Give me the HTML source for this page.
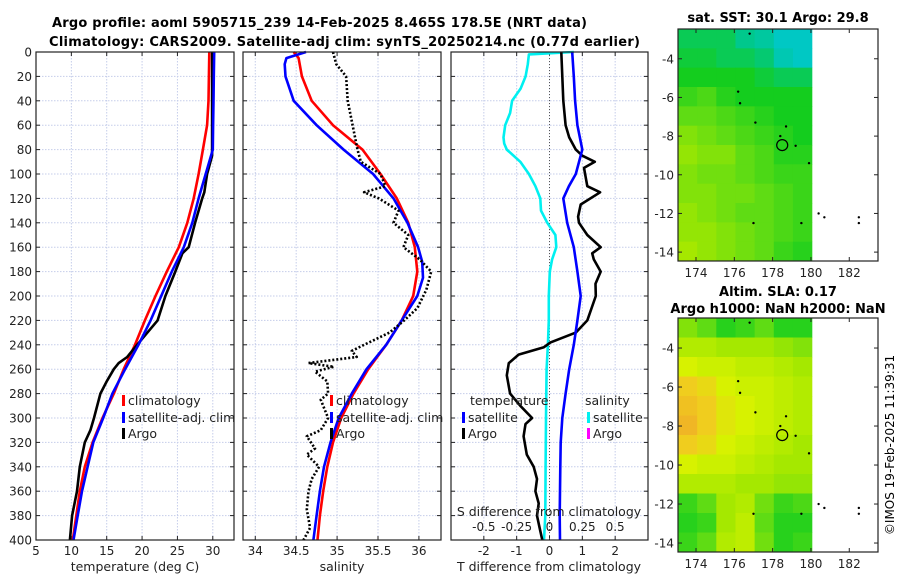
<!DOCTYPE html>
<html><head><meta charset="utf-8"><style>
html,body{margin:0;padding:0;background:#fff;}
svg{display:block;font-family:"DejaVu Sans","Liberation Sans",sans-serif;}
</style></head><body>
<svg id="fig" width="900" height="580" viewBox="0 0 900 580" xmlns="http://www.w3.org/2000/svg">
<text x="52" y="27" font-size="13" font-weight="bold" textLength="535">Argo profile: aoml 5905715_239 14-Feb-2025 8.465S 178.5E (NRT data)</text>
<text x="49" y="46" font-size="13" font-weight="bold" textLength="591">Climatology: CARS2009. Satellite-adj clim: synTS_20250214.nc (0.77d earlier)</text>
<text x="778" y="22" font-size="13" font-weight="bold" text-anchor="middle">sat. SST: 30.1 Argo: 29.8</text>
<text x="778" y="296" font-size="13" font-weight="bold" text-anchor="middle">Altim. SLA: 0.17</text>
<text x="778" y="313" font-size="13" font-weight="bold" text-anchor="middle">Argo h1000: NaN h2000: NaN</text>
<text transform="translate(894,445) rotate(-90)" font-size="12" text-anchor="middle">©IMOS 19-Feb-2025 11:39:31</text>
<g id="root"></g>
</svg>
<script>
// ---------- data ----------
const depthTicks=[0,20,40,60,80,100,120,140,160,180,200,220,240,260,280,300,320,340,360,380,400];
const tempTicks=[5,10,15,20,25,30];
const salTicks=[34,34.5,35,35.5,36];
const tdiffTicks=[-2,-1,0,1,2];
const sdiffTicks=[-0.5,-0.25,0,0.25,0.5];
const sdiffLabels=["-0.5","-0.25","0","0.25","0.5"];
const lonTicks=[174,176,178,180,182];
const latTicks=[-4,-6,-8,-10,-12,-14];

const tClimDepth=[0,20,40,60,80,100,120,140,160,180,200,220,240,260,280,300,320,340,360,380,400];
const tClimVal=[29.5,29.45,29.4,29.2,28.6,28.0,27.3,26.4,25.2,23.5,21.9,20.4,19.0,17.4,16.0,14.4,13.0,11.9,11.2,10.7,10.2];
const tSatDepth=[0,20,40,60,80,100,120,140,160,180,200,220,240,260,280,300,320,340,360,380,400];
const tSatVal=[30.2,30.15,30.1,30.05,30.0,29.0,28.0,27.1,25.9,24.2,22.7,21.2,19.5,17.6,15.8,14.5,13.1,12.3,11.5,10.9,10.3];
const tArgoDepth=[0,40,85,100,115,120,140,160,165,180,200,220,240,250,255,260,270,280,300,310,320,340,360,380,400];
const tArgoVal=[29.9,29.9,29.9,29.2,28.8,28.5,27.5,26.6,25.7,24.7,23.3,22.2,19.3,17.9,16.7,16.0,15.0,14.1,13.2,12.7,11.9,11.2,10.8,10.1,9.8];

const sClimDepth=[0,5,20,40,60,80,100,120,140,160,180,200,220,240,260,280,300,320,340,360,380,400];
const sClimVal=[34.47,34.53,34.57,34.69,34.95,35.31,35.53,35.73,35.87,35.95,35.98,35.93,35.79,35.6,35.38,35.2,35.05,34.95,34.88,34.83,34.79,34.76];
const sSatDepth=[0,5,10,20,40,60,80,100,120,140,160,172,185,200,220,240,260,280,300,320,340,360,380,400];
const sSatVal=[34.62,34.38,34.36,34.37,34.47,34.75,35.08,35.44,35.69,35.86,35.99,36.04,36.05,35.98,35.79,35.6,35.36,35.18,35.02,34.92,34.84,34.79,34.75,34.71];
const sArgoDepth=[0,10,20,40,60,80,90,100,110,115,120,130,140,150,160,170,180,195,210,220,230,240,245,250,255,258,262,270,280,285,300,310,315,325,330,340,350,360,375,390,400];
const sArgoVal=[34.95,34.99,35.11,35.13,35.19,35.25,35.29,35.53,35.59,35.33,35.51,35.75,35.69,35.87,35.81,36.01,36.15,36.09,35.98,35.82,35.64,35.33,35.18,35.24,34.65,34.96,34.73,34.88,34.89,34.8,34.89,34.8,34.63,34.73,34.63,34.78,34.69,34.65,34.63,34.67,34.59];

const dTSatDepth=[0,20,40,60,80,100,110,120,140,160,180,200,220,240,260,280,300,320,340,360,380,400];
const dTSatVal=[0.69,0.74,0.78,0.85,1.0,0.8,0.59,0.42,0.54,0.74,0.85,0.95,0.85,0.74,0.6,0.49,0.39,0.34,0.33,0.32,0.31,0.32];
const dTArgoDepth=[0,20,40,60,70,80,85,90,95,110,115,125,135,140,150,160,165,170,180,190,200,220,230,238,242,248,255,265,280,290,300,305,315,330,340,350,360,370,380,390,400];
const dTArgoVal=[0.36,0.39,0.42,0.49,0.6,0.8,1.0,1.38,1.05,1.15,1.54,0.95,0.87,0.9,1.15,1.56,1.3,1.35,1.56,1.4,1.41,1.15,0.8,0.03,-0.17,-0.94,-1.24,-1.3,-1.2,-0.89,-0.53,-0.73,-0.79,-0.69,-0.48,-0.38,-0.43,-0.33,-0.38,-0.3,-0.22];
const dSSatDepth=[0,2,10,20,30,40,50,60,70,75,80,90,100,110,120,130,140,150,160,170,180,200,220,240,260,300,340,380,400];
const dSSatVal=[0.185,-0.157,-0.165,-0.182,-0.22,-0.285,-0.3,-0.337,-0.35,-0.345,-0.325,-0.222,-0.157,-0.107,-0.07,-0.065,-0.017,0.045,0.052,0.02,0.002,-0.005,-0.005,-0.012,-0.022,-0.027,-0.03,-0.032,-0.042];

// map grids: rows from lat -2.5 downward (1 deg each), cols from lon 173.06 eastward
const sstGrid=[
[.3,.3,.3,.2,.15,.05,.05],
[.35,.35,.3,.3,.25,.1,.05],
[.4,.4,.4,.4,.35,.3,.3],
[.5,.55,.45,.4,.4,.4,.4],
[.6,.6,.55,.5,.45,.4,.4],
[.7,.65,.6,.55,.5,.45,.4],
[.75,.7,.7,.6,.55,.45,.45],
[.7,.65,.65,.6,.55,.5,.5],
[.7,.7,.65,.65,.6,.55,.5],
[.75,.7,.65,.6,.6,.55,.5],
[.75,.75,.7,.65,.6,.55,.5],
[.8,.75,.7,.65,.6,.5,.45]];
const slaGrid=[
[.7,.6,.45,.5,.6,.45,.45],
[.85,.85,.8,.8,.8,.75,.7],
[1.0,.95,.95,.9,.9,.85,.8],
[1.15,1.1,1.0,.95,.95,.9,.85],
[1.2,1.15,1.05,1.0,.95,.9,.85],
[1.25,1.15,1.05,1.0,.95,.9,.85],
[1.15,1.1,1.0,.95,.9,.85,.8],
[1.0,.95,.95,.9,.85,.8,.8],
[.85,.85,.85,.8,.8,.75,.75],
[.5,.6,.8,.85,.65,.5,.55],
[.45,.5,.8,.9,.6,.45,.45],
[.5,.6,.85,.9,.65,.45,.5]];
const islandLon=[176.8,176.2,176.3,177.1,178.7,178.4,179.2,179.9,180.4,180.7,182.5,182.5,177.0,179.5];
const islandLat=[-2.7,-5.7,-6.3,-7.3,-7.5,-8.0,-8.5,-9.4,-12.0,-12.2,-12.2,-12.5,-12.5,-12.5];
const argoLon=178.5, argoLat=-8.465;

// ---------- drawing ----------
const NS="http://www.w3.org/2000/svg";
const root=document.getElementById('root');
function el(tag,attrs,parent){const e=document.createElementNS(NS,tag);for(const k in attrs)e.setAttribute(k,attrs[k]);(parent||root).appendChild(e);return e;}
const TOP=52,BOT=540;
const yD=d=>TOP+(d/400)*(BOT-TOP);
function lin(d0,d1,r0,r1){return v=>r0+(v-d0)/(d1-d0)*(r1-r0);}

const panels=[
 {x0:36,x1:234,sx:lin(5,33,36,234),ticks:tempTicks,name:'temperature-panel',label:'temperature (deg C)',lx:135},
 {x0:243,x1:441,sx:lin(33.85,36.27,243,441),ticks:salTicks,name:'salinity-panel',label:'salinity',lx:342},
 {x0:451,x1:648,sx:lin(-3,3,451,648),ticks:tdiffTicks,name:'difference-panel',label:'T difference from climatology',lx:549}
];
panels.forEach((p,pi)=>{
  const g=el('g',{});
  
  
  depthTicks.forEach(d=>{
    const l=el('line',{x1:p.x0,x2:p.x1,y1:yD(d),y2:yD(d),stroke:'#c5cdea','stroke-width':1,'stroke-dasharray':'1.5,1.5'},g);
    
    el('line',{x1:p.x0,x2:p.x0+4,y1:yD(d),y2:yD(d),stroke:'#222'},g);
    el('line',{x1:p.x1,x2:p.x1-4,y1:yD(d),y2:yD(d),stroke:'#222'},g);
    if(pi===0){const t=el('text',{x:p.x0-4,y:yD(d)+4.5,'font-size':12,'text-anchor':'end',fill:'#222'},g);t.textContent=d;
      }
  });
  p.ticks.forEach(v=>{
    const x=p.sx(v);
    el('line',{x1:x,x2:x,y1:TOP,y2:BOT,stroke:'#c5cdea','stroke-width':1,'stroke-dasharray':'1.5,1.5'},g);
    el('line',{x1:x,x2:x,y1:BOT,y2:BOT-4,stroke:'#222'},g);
    el('line',{x1:x,x2:x,y1:TOP,y2:TOP+4,stroke:'#222'},g);
    const t=el('text',{x:x,y:555,'font-size':12,'text-anchor':'middle',fill:'#222'},g);t.textContent=v;
    
  });
  if(pi===2){el('line',{x1:p.sx(0),x2:p.sx(0),y1:TOP,y2:BOT,stroke:'#555','stroke-dasharray':'1,2'},g);}
  const lab=el('text',{x:p.lx,y:571,'font-size':12.5,'text-anchor':'middle',fill:'#222'},g);lab.textContent=p.label;
  
  p.g=g;
});
function line(depths,vals,sx,color,name,dash,w){
  const pts=depths.map((d,i)=>sx(vals[i]).toFixed(1)+','+yD(d).toFixed(1)).join(' ');
  const a={points:pts,fill:'none',stroke:color,'stroke-width':w||2.6,'stroke-linejoin':'round'};
  if(dash)a['stroke-dasharray']=dash;
  const e=el('polyline',a);
  
  
}
const P=panels;
line(tClimDepth,tClimVal,P[0].sx,'#ff0000','temp-climatology-line');
line(tArgoDepth,tArgoVal,P[0].sx,'#000','temp-argo-line');
line(tSatDepth,tSatVal,P[0].sx,'#0000ff','temp-satellite-line');
line(sClimDepth,sClimVal,P[1].sx,'#ff0000','sal-climatology-line');
line(sSatDepth,sSatVal,P[1].sx,'#0000ff','sal-satellite-line');
line(sArgoDepth,sArgoVal,P[1].sx,'#000','sal-argo-line','2,2',2.6);
const sdx=lin(-0.75,0.75,451,648);
line(dSSatDepth,dSSatVal,sdx,'#00f0f0','sdiff-satellite-line');
line(dTArgoDepth,dTArgoVal,P[2].sx,'#000','tdiff-argo-line');
line(dTSatDepth,dTSatVal,P[2].sx,'#0000ff','tdiff-satellite-line');
// panel borders
panels.forEach(p=>{el('rect',{x:p.x0,y:TOP,width:p.x1-p.x0,height:BOT-TOP,fill:'none',stroke:'#222','stroke-width':1.2});});
// S diff axis labels inside panel 3
{const t=el('text',{x:549,y:516,'font-size':12.5,'text-anchor':'middle',fill:'#222'});t.textContent='S difference from climatology';

sdiffTicks.forEach((v,i)=>{const s=el('text',{x:sdx(v),y:531,'font-size':12,'text-anchor':'middle',fill:'#222'});s.textContent=sdiffLabels[i];
});}
// legends
function legendEntry(x,y,color,txt,name){
  const g=el('g',{});
  
  
  el('rect',{x:x,y:y-10,width:3,height:11,fill:color},g);
  const t=el('text',{x:x+6,y:y,'font-size':12.5,fill:'#222'},g);t.textContent=txt;
}
legendEntry(122,405,'#ff0000','climatology','legend-climatology');
legendEntry(122,422,'#0000ff','satellite-adj. clim','legend-satellite');
legendEntry(122,438,'#000','Argo','legend-argo');
legendEntry(330,405,'#ff0000','climatology','legend-sal-climatology');
legendEntry(330,422,'#0000ff','satellite-adj. clim','legend-sal-satellite');
legendEntry(330,438,'#000','Argo','legend-sal-argo');
{const t=el('text',{x:470,y:405,'font-size':12.5,fill:'#222'});t.textContent='temperature';

const s=el('text',{x:585,y:405,'font-size':12.5,fill:'#222'});s.textContent='salinity';
}
legendEntry(462,422,'#0000ff','satellite','legend-tdiff-satellite');
legendEntry(462,438,'#000','Argo','legend-tdiff-argo');
legendEntry(587,422,'#00f0f0','satellite','legend-sdiff-satellite');
legendEntry(587,438,'#ff00ff','Argo','legend-sdiff-argo');

// ---------- maps ----------
const stops=[[0,[0,200,215]],[0.2,[0,200,140]],[0.4,[20,205,30]],[0.6,[95,220,20]],[0.8,[165,232,0]],[1.0,[215,242,0]],[1.15,[240,205,30]],[1.3,[240,170,40]]];
function cmap(v){for(let i=1;i<stops.length;i++){if(v<=stops[i][0]){const a=stops[i-1],b=stops[i];const t=(v-a[0])/(b[0]-a[0]);
 const c=a[1].map((x,k)=>Math.round(x+(b[1][k]-x)*t));return 'rgb('+c.join(',')+')';}}return 'rgb(240,170,40)';}
const mx=lin(173.06,183.5,678,878);
function drawMap(top,bottom,grid,name){
  const my=lin(-2.46,-14.46,top,bottom);
  const g=el('g',{});
  
  
  grid.forEach((row,r)=>row.forEach((v,c)=>{
    const x0=mx(173.06+c),x1=mx(173.06+c+1);const y0=my(-2.46-r),y1=my(-2.46-r-1);
    const cell=el('rect',{x:x0,y:y0,width:Math.min(x1,mx(180.05))-x0+0.4,height:y1-y0+0.4,fill:cmap(v)},g);
    
    
  }));
  islandLon.forEach((lo,i)=>{el('circle',{cx:mx(lo),cy:my(islandLat[i]),r:1.2,fill:'#000'},g);});
  const ac=el('circle',{cx:mx(argoLon),cy:my(argoLat),r:5.5,fill:'none',stroke:'#000','stroke-width':1.2},g);
  
  
  el('rect',{x:678,y:top,width:200,height:bottom-top,fill:'none',stroke:'#222','stroke-width':1.2},g);
  lonTicks.forEach(lo=>{const x=mx(lo);
    el('line',{x1:x,x2:x,y1:bottom,y2:bottom-4,stroke:'#222'},g);el('line',{x1:x,x2:x,y1:top,y2:top+4,stroke:'#222'},g);
    const t=el('text',{x:x,y:bottom+16,'font-size':12,'text-anchor':'middle',fill:'#222'},g);t.textContent=lo;
    });
  latTicks.forEach(la=>{const y=my(la);
    el('line',{x1:678,x2:682,y1:y,y2:y,stroke:'#222'},g);el('line',{x1:878,x2:874,y1:y,y2:y,stroke:'#222'},g);
    const t=el('text',{x:674,y:y+4.5,'font-size':12,'text-anchor':'end',fill:'#222'},g);t.textContent=la;
    });
}
drawMap(29,261,sstGrid,'sst-map');
drawMap(318,552,slaGrid,'sla-map');
</script>
</body></html>
